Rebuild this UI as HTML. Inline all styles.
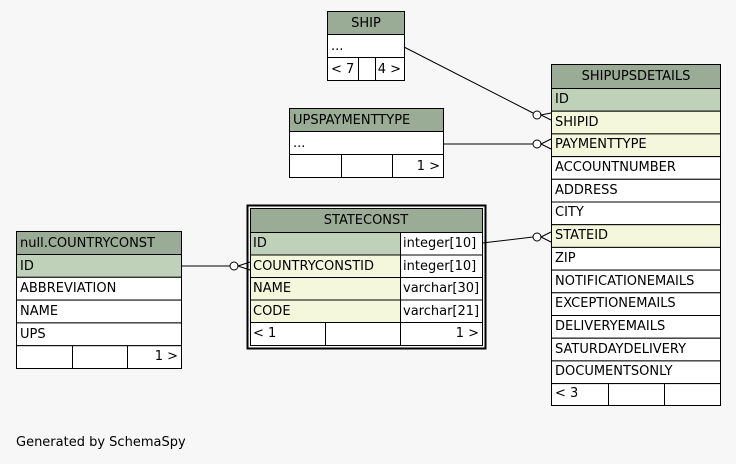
<!DOCTYPE html>
<html><head><style>body{margin:0;background:#f7f7f7}svg{display:block}text{font-family:"DejaVu Sans","Liberation Sans",sans-serif;font-size:13px;fill:#000}</style></head><body>
<svg width="736" height="464" viewBox="0 0 736 464" xmlns="http://www.w3.org/2000/svg">
<defs><clipPath id="c"><rect x="400" y="232" width="83" height="90"/></clipPath></defs>
<rect width="736" height="464" fill="#f7f7f7"/>
<g stroke="#000" stroke-width="1">
<rect x="327.5" y="11.5" width="77" height="23" fill="#9aab96"/>
<rect x="327.5" y="34.5" width="77" height="23" fill="#fff"/>
<rect x="327.5" y="57.5" width="77" height="23" fill="#fff"/>
<line x1="358.5" y1="57.5" x2="358.5" y2="80.5"/><line x1="375.5" y1="57.5" x2="375.5" y2="80.5"/>
<rect x="289.5" y="108.5" width="154" height="23" fill="#9aab96"/>
<rect x="289.5" y="131.5" width="154" height="23" fill="#fff"/>
<rect x="289.5" y="154.5" width="154" height="23" fill="#fff"/>
<line x1="341.5" y1="154.5" x2="341.5" y2="177.5"/><line x1="392.5" y1="154.5" x2="392.5" y2="177.5"/>
<rect x="247.5" y="205.5" width="238" height="143" fill="none" stroke-width="2"/>
<rect x="250.5" y="208.5" width="232" height="24" fill="#9aab96"/>
<rect x="250.5" y="232.5" width="150" height="22.5" fill="#c0d1ba"/><rect x="400.5" y="232.5" width="82" height="22.5" fill="#fff"/>
<rect x="250.5" y="255" width="150" height="22.5" fill="#f4f7dc"/><rect x="400.5" y="255" width="82" height="22.5" fill="#fff"/>
<rect x="250.5" y="277.5" width="150" height="22.5" fill="#f4f7dc"/><rect x="400.5" y="277.5" width="82" height="22.5" fill="#fff"/>
<rect x="250.5" y="300" width="150" height="22.5" fill="#f4f7dc"/><rect x="400.5" y="300" width="82" height="22.5" fill="#fff"/>
<rect x="250.5" y="322.5" width="232" height="23" fill="#fff"/>
<line x1="325.5" y1="322.5" x2="325.5" y2="345.5"/><line x1="400.5" y1="322.5" x2="400.5" y2="345.5"/>
<rect x="16.5" y="231.5" width="165" height="23" fill="#9aab96"/>
<rect x="16.5" y="254.5" width="165" height="22.8" fill="#c0d1ba"/>
<rect x="16.5" y="277.3" width="165" height="22.8" fill="#fff"/>
<rect x="16.5" y="300.1" width="165" height="22.8" fill="#fff"/>
<rect x="16.5" y="322.9" width="165" height="22.8" fill="#fff"/>
<rect x="16.5" y="345.7" width="165" height="22.8" fill="#fff"/>
<line x1="72.5" y1="345.7" x2="72.5" y2="368.5"/><line x1="127.5" y1="345.7" x2="127.5" y2="368.5"/>
<rect x="551.5" y="64.5" width="169" height="24" fill="#9aab96"/>
<rect x="551.5" y="88.5" width="169" height="22.7" fill="#c0d1ba"/>
<rect x="551.5" y="111.2" width="169" height="22.7" fill="#f4f7dc"/>
<rect x="551.5" y="133.9" width="169" height="22.7" fill="#f4f7dc"/>
<rect x="551.5" y="156.6" width="169" height="22.7" fill="#fff"/>
<rect x="551.5" y="179.3" width="169" height="22.7" fill="#fff"/>
<rect x="551.5" y="202" width="169" height="22.7" fill="#fff"/>
<rect x="551.5" y="224.7" width="169" height="22.7" fill="#f4f7dc"/>
<rect x="551.5" y="247.4" width="169" height="22.7" fill="#fff"/>
<rect x="551.5" y="270.1" width="169" height="22.7" fill="#fff"/>
<rect x="551.5" y="292.8" width="169" height="22.7" fill="#fff"/>
<rect x="551.5" y="315.5" width="169" height="22.7" fill="#fff"/>
<rect x="551.5" y="338.2" width="169" height="22.7" fill="#fff"/>
<rect x="551.5" y="360.9" width="169" height="22.7" fill="#fff"/>
<rect x="551.5" y="383.6" width="169" height="21.9" fill="#fff"/>
<line x1="608.5" y1="383.6" x2="608.5" y2="405.5"/><line x1="664.5" y1="383.6" x2="664.5" y2="405.5"/>
<line x1="404" y1="47" x2="533" y2="113"/>
<line x1="443" y1="144" x2="533" y2="144"/>
<line x1="482" y1="243" x2="533" y2="237"/>
<line x1="181" y1="266" x2="230" y2="266"/>
<g fill="#fff"><circle cx="537" cy="115" r="4"/><circle cx="537" cy="144" r="4"/><circle cx="537" cy="237" r="4"/><circle cx="234" cy="266" r="4"/></g>
<path d="M551 113 L541 115 L551 120 M541 144 L551 139 M541 144 L551 149 M541 237 L551 232 M541 237 L551 242 M238 266 L250 262 M238 266 L250 270" fill="none"/>
</g>
<text x="366" y="27" text-anchor="middle">SHIP</text>
<text x="331" y="50">...</text>
<text x="331" y="73">&lt; 7</text><text x="401" y="73" text-anchor="end">4 &gt;</text>
<text x="293" y="124">UPSPAYMENTTYPE</text>
<text x="293" y="147">...</text>
<text x="440" y="170" text-anchor="end">1 &gt;</text>
<text x="366" y="224" text-anchor="middle">STATECONST</text>
<text x="253" y="247">ID</text>
<text x="253" y="270">COUNTRYCONSTID</text>
<text x="253" y="292">NAME</text>
<text x="253" y="315">CODE</text>
<g clip-path="url(#c)">
<text x="403" y="247">integer[10]</text><text x="403" y="270">integer[10]</text><text x="403" y="292">varchar[30]</text><text x="403" y="315">varchar[21]</text>
</g>
<text x="253" y="337">&lt; 1</text><text x="479" y="337" text-anchor="end">1 &gt;</text>
<text x="20" y="247">null.COUNTRYCONST</text>
<text x="20" y="270">ID</text><text x="20" y="292">ABBREVIATION</text><text x="20" y="315">NAME</text><text x="20" y="338">UPS</text>
<text x="178" y="360" text-anchor="end">1 &gt;</text>
<text x="636" y="80" text-anchor="middle">SHIPUPSDETAILS</text>
<text x="555" y="103">ID</text><text x="555" y="126">SHIPID</text><text x="555" y="148">PAYMENTTYPE</text><text x="555" y="171">ACCOUNTNUMBER</text><text x="555" y="194">ADDRESS</text><text x="555" y="216">CITY</text><text x="555" y="239">STATEID</text><text x="555" y="262">ZIP</text><text x="555" y="285">NOTIFICATIONEMAILS</text><text x="555" y="307">EXCEPTIONEMAILS</text><text x="555" y="330">DELIVERYEMAILS</text><text x="555" y="353">SATURDAYDELIVERY</text><text x="555" y="375">DOCUMENTSONLY</text><text x="555" y="397">&lt; 3</text>
<text x="16" y="446">Generated by SchemaSpy</text>
</svg>
</body></html>
